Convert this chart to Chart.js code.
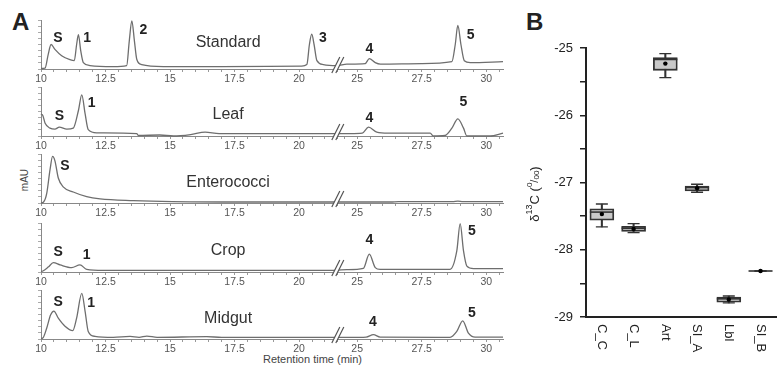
<!DOCTYPE html>
<html>
<head>
<meta charset="utf-8">
<script src="https://cdn.jsdelivr.net/npm/chart.js@4.4.0/dist/chart.umd.min.js"></script>
<style>
  html, body { margin: 0; padding: 0; background: #fff; overflow: hidden; width: 781px; height: 373px; }
  #wrap { position: relative; width: 781px; height: 373px; overflow: hidden; font-family: "Liberation Sans", Arial, sans-serif; }
  canvas { position: absolute; }
  .txt { position: absolute; white-space: nowrap; color: #222; line-height: 1; }
</style>
</head>
<body>
<div id="wrap">
  <div class="txt" style="left:12px; top:10px; font-size:24px; font-weight:bold;">A</div>
  <div class="txt" style="left:526px; top:10px; font-size:24px; font-weight:bold;">B</div>
  <div class="txt" style="left:5px; top:175px; width:40px; text-align:center; font-size:10px; color:#444; transform:rotate(-90deg);">mAU</div>
  <div class="txt" style="left:263px; top:354px; font-size:11px; color:#444;">Retention time (min)</div>
</div>
<script>
const FONT = '"Liberation Sans", Arial, sans-serif';

// ---- Panel A: chromatograms (retention time in min, signal in % of panel height)
const stdTime = [10.0, 10.16, 10.28, 10.39, 10.54, 10.8, 11.12, 11.29, 11.38, 11.45, 11.54, 11.64, 11.9, 12.8, 13.32, 13.42, 13.52, 13.62, 13.71, 13.9, 14.74, 17.0, 20.1, 20.3, 20.4, 20.49, 20.58, 20.69, 20.94, 21.46, 24.6, 25.31, 25.47, 25.7, 25.9, 27.5, 28.67, 28.8, 28.9, 29.02, 29.15, 29.38, 30.65];
const stdSignal = [1, 2, 30, 50, 40, 27, 19, 17, 50, 70, 37, 13, 7, 5, 7, 57, 98, 57, 20, 9, 5, 5, 6, 9, 50, 71, 50, 17, 9, 7, 10, 11, 21, 13, 10, 11, 15, 50, 89, 50, 17, 13, 15];

const leafTime = [10.0, 10.07, 10.16, 10.35, 10.54, 10.71, 11.0, 11.25, 11.45, 11.58, 11.71, 11.83, 12.16, 13.71, 13.77, 14.6, 15.13, 15.8, 16.36, 16.9, 21.2, 24.73, 25.2, 25.44, 25.76, 26.2, 27.83, 27.95, 28.4, 28.67, 28.9, 29.12, 29.25, 30.15, 30.65];
const leafSignal = [45, 42, 26, 16, 14, 18, 14, 16, 52, 84, 45, 13, 6.5, 5, 1, 2, 0, 3, 8, 5, 5, 5, 6, 18, 8, 6, 6, 0, 1, 16, 35, 16, 0, 0, 6];

const entTime = [10.0, 10.1, 10.22, 10.35, 10.45, 10.54, 10.67, 10.86, 11.25, 11.77, 12.29, 13.58, 15.1, 18.5, 21.4, 24.6, 26.3, 26.6, 28.7, 28.9, 29.1, 30.65];
const entSignal = [0, 2, 19, 68, 95, 86, 51, 33, 22.5, 13, 8.5, 5, 3, 2, 2, 2, 2, 3, 3, 4, 3, 3];

const cropTime = [10.0, 10.07, 10.28, 10.48, 10.74, 11.19, 11.51, 11.77, 12.41, 18.0, 21.4, 24.6, 25.24, 25.47, 25.7, 25.89, 28.6, 28.86, 28.99, 29.12, 29.25, 29.51, 30.65];
const cropSignal = [1, 2, 10, 19, 14.5, 9, 14.5, 5.5, 3.5, 3.5, 3.5, 5, 7.6, 36.5, 9, 5.5, 5.5, 43, 98.6, 43, 12, 7, 7];

const midTime = [10.0, 10.07, 10.22, 10.37, 10.5, 10.67, 10.93, 11.23, 11.38, 11.58, 11.71, 11.83, 12.09, 12.8, 13.45, 13.8, 14.1, 14.5, 16.42, 17.0, 21.4, 24.73, 25.35, 25.63, 25.89, 28.6, 28.86, 29.09, 29.31, 29.57, 30.65];
const midSignal = [1, 2, 22, 49, 57, 42.5, 26, 17, 42.5, 93, 56, 15.5, 5.4, 3.4, 5.4, 3.4, 6, 3.4, 4.7, 3.4, 3.4, 3.4, 4, 8.8, 4, 3.4, 15.5, 37, 12, 4, 4];

// peak labels: [text, retention time, signal]
const stdPeaks = [['S', 10.66, 62], ['1', 11.79, 62], ['2', 13.97, 80], ['3', 20.92, 62], ['4', 25.47, 41], ['5', 29.4, 70]];
const leafPeaks = [['S', 10.71, 40], ['1', 11.96, 68], ['4', 25.47, 37], ['5', 29.12, 70]];
const entPeaks = [['S', 10.93, 75]];
const cropPeaks = [['S', 10.67, 40], ['1', 11.77, 34], ['4', 25.47, 64], ['5', 29.44, 83]];
const midPeaks = [['S', 10.67, 76], ['1', 11.94, 73], ['4', 25.61, 34], ['5', 29.44, 53]];

const tickMajor = [10, 12.5, 15, 17.5, 20, 25, 27.5, 30];
const tickLabels = ['10', '12.5', '15', '17.5', '20', '25', '27.5', '30'];

// ---- Panel B: δ13C box plots
const isoGroups = ['C_C', 'C_L', 'Art', 'SI_A', 'Lbl', 'SI_B'];
const whiskLow  = [-27.66, -27.745, -25.44, -27.146, -28.79, -28.316];
const q1        = [-27.56, -27.726, -25.332, -27.126, -28.781, -28.316];
const median    = [-27.44, -27.68, -25.17, -27.075, -28.73, -28.316];
const q3        = [-27.39, -27.651, -25.143, -27.052, -28.703, -28.316];
const whiskHigh = [-27.32, -27.611, -25.083, -27.027, -28.688, -28.316];
const means     = [-27.47, -27.69, -25.232, -27.086, -28.74, -28.316];

// broken time axis: 21.5 .. 24.25 min is cut out
const BREAK_AT = 21.5;
const GAP = 2.75;
function toAxis(t) { return t > BREAK_AT + 0.5 ? t - GAP : t; }

const axisTicks = [];
for (let t = 10; t <= 21.5; t += 0.5) axisTicks.push(t);
for (let t = 24.5; t <= 30.5; t += 0.5) axisTicks.push(t);

const rows = [
  { name: 'Standard', time: stdTime, signal: stdSignal, peaks: stdPeaks, axisY: 69, nameY: 53 },
  { name: 'Leaf', time: leafTime, signal: leafSignal, peaks: leafPeaks, axisY: 136, nameY: 43 },
  { name: 'Enterococci', time: entTime, signal: entSignal, peaks: entPeaks, axisY: 203, nameY: 41 },
  { name: 'Crop', time: cropTime, signal: cropSignal, peaks: cropPeaks, axisY: 272, nameY: 43 },
  { name: 'Midgut', time: midTime, signal: midSignal, peaks: midPeaks, axisY: 339, nameY: 41 }
];

const chromLabels = {
  id: 'chromLabels',
  afterDatasetsDraw(chart, args, o) {
    const { ctx, scales: { x, y } } = chart;
    ctx.save();
    // axis break marks
    const bx = x.getPixelForValue(BREAK_AT), by = y.bottom;
    ctx.fillStyle = '#fff';
    ctx.beginPath();
    ctx.moveTo(bx - 6, by + 4); ctx.lineTo(bx - 2, by + 4);
    ctx.lineTo(bx + 6, by - 12); ctx.lineTo(bx + 2, by - 12);
    ctx.closePath(); ctx.fill();
    ctx.strokeStyle = '#555'; ctx.lineWidth = 1.2;
    ctx.beginPath();
    ctx.moveTo(bx - 6, by + 4); ctx.lineTo(bx + 2, by - 12);
    ctx.moveTo(bx - 2, by + 4); ctx.lineTo(bx + 6, by - 12);
    ctx.stroke();
    // peak labels
    ctx.fillStyle = '#222';
    ctx.textAlign = 'center';
    ctx.textBaseline = 'middle';
    ctx.font = 'bold 14px ' + FONT;
    o.peaks.forEach(([txt, t, v]) => ctx.fillText(txt, x.getPixelForValue(toAxis(t)), y.getPixelForValue(v)));
    // sample name
    ctx.fillStyle = '#333';
    ctx.font = '16px ' + FONT;
    ctx.fillText(o.name, x.getPixelForValue(17.25), y.getPixelForValue(o.nameY));
    ctx.restore();
  }
};

const wrap = document.getElementById('wrap');

rows.forEach(r => {
  const cv = document.createElement('canvas');
  cv.width = 505; cv.height = 67;
  cv.style.left = '0px';
  cv.style.top = (r.axisY - 51) + 'px';
  wrap.appendChild(cv);

  new Chart(cv.getContext('2d'), {
    type: 'line',
    data: {
      datasets: [{
        data: r.time.map((t, i) => ({ x: toAxis(t), y: r.signal[i] })),
        borderColor: '#6e6e6e',
        borderWidth: 1.3,
        pointRadius: 0,
        cubicInterpolationMode: 'monotone',
        fill: false,
        clip: false
      }]
    },
    options: {
      responsive: false,
      animation: false,
      events: [],
      layout: { padding: { top: 2, right: 2, left: 0, bottom: 0 } },
      plugins: {
        legend: { display: false },
        tooltip: { enabled: false },
        chromLabels: { name: r.name, nameY: r.nameY, peaks: r.peaks }
      },
      scales: {
        x: {
          type: 'linear',
          min: 10,
          max: 27.9,
          afterBuildTicks: s => { s.ticks = axisTicks.map(t => ({ value: toAxis(t) })); },
          afterFit: s => { s.height = 16; },
          ticks: {
            autoSkip: false,
            maxRotation: 0,
            padding: 1,
            color: '#555',
            font: { size: 10.5, family: FONT },
            callback: (v, i) => {
              const k = tickMajor.indexOf(axisTicks[i]);
              return k >= 0 ? tickLabels[k] : '';
            }
          },
          grid: { drawOnChartArea: false, tickLength: 3, color: '#999' },
          border: { color: '#888', width: 1 }
        },
        y: {
          min: 0,
          max: 100,
          afterFit: s => { s.width = 41; },
          ticks: { display: false, stepSize: 12.5 },
          grid: { drawOnChartArea: false, tickLength: 3, color: '#aaa' },
          border: { color: '#888', width: 1 }
        }
      }
    },
    plugins: [chromLabels]
  });
});

// ---- Panel B
const boxText = {
  id: 'boxText',
  afterDraw(chart) {
    const { ctx, scales: { x } } = chart;
    ctx.save();
    ctx.fillStyle = '#222';
    ctx.font = '13px ' + FONT;
    ctx.textAlign = 'left';
    ctx.textBaseline = 'middle';
    chart.data.labels.forEach((lab, i) => {
      ctx.save();
      ctx.translate(x.getPixelForTick(i), x.top + 7);
      ctx.rotate(Math.PI / 2);
      ctx.fillText(lab, 0, 0);
      ctx.restore();
    });
    // y axis title: δ13C (0/00)
    const parts = [
      ['δ', 13, 0], ['13', 9, -5], ['C (', 13, 0], ['0', 8, -5], ['/', 11, 0], ['00', 8, 2], [')', 13, 0]
    ];
    let total = 0;
    parts.forEach(p => { ctx.font = p[1] + 'px ' + FONT; total += ctx.measureText(p[0]).width; });
    ctx.translate(35, 194);
    ctx.rotate(-Math.PI / 2);
    let cx = -total / 2;
    parts.forEach(p => {
      ctx.font = p[1] + 'px ' + FONT;
      ctx.fillText(p[0], cx, p[2]);
      cx += ctx.measureText(p[0]).width;
    });
    ctx.restore();
  }
};

const cvB = document.createElement('canvas');
cvB.width = 290; cvB.height = 373;
cvB.style.left = '500px';
cvB.style.top = '0px';
wrap.appendChild(cvB);

new Chart(cvB.getContext('2d'), {
  type: 'bar',
  data: {
    labels: isoGroups,
    datasets: [
      { type: 'line', data: means, showLine: false, pointStyle: 'circle', pointRadius: 2.2,
        pointBackgroundColor: '#000', pointBorderColor: '#000', pointBorderWidth: 0, order: 0 },
      { type: 'line', data: median, showLine: false, pointStyle: 'line', pointRadius: 12,
        pointBorderColor: '#333', pointBorderWidth: 1.6, order: 1, clip: false },
      { type: 'line', data: whiskHigh, showLine: false, pointStyle: 'line', pointRadius: 6,
        pointBorderColor: '#333', pointBorderWidth: 1.4, order: 1 },
      { type: 'line', data: whiskLow, showLine: false, pointStyle: 'line', pointRadius: 6,
        pointBorderColor: '#333', pointBorderWidth: 1.4, order: 1 },
      { data: q1.map((v, i) => [v, q3[i]]), backgroundColor: '#c9c9c9', borderColor: '#333',
        borderWidth: 1.8, borderSkipped: false, barThickness: 24, grouped: false, order: 2 },
      { data: whiskLow.map((v, i) => [v, whiskHigh[i]]), backgroundColor: '#333',
        barThickness: 1.4, grouped: false, order: 3 }
    ]
  },
  options: {
    responsive: false,
    animation: false,
    events: [],
    layout: { padding: { top: 48, right: 6, left: 21, bottom: 0 } },
    plugins: { legend: { display: false }, tooltip: { enabled: false } },
    scales: {
      x: {
        afterFit: s => { s.height = 56; },
        ticks: { display: false },
        grid: { drawOnChartArea: false, drawTicks: false },
        border: { color: '#222', width: 2 }
      },
      y: {
        min: -29,
        max: -25,
        afterFit: s => { s.width = 65; },
        ticks: {
          stepSize: 0.5,
          padding: 7,
          color: '#222',
          font: { size: 13, family: FONT },
          callback: v => (v % 1 === 0 ? String(v) : '')
        },
        grid: { drawOnChartArea: false, tickLength: 6, color: '#222', lineWidth: 1.5 },
        border: { color: '#222', width: 2 }
      }
    }
  },
  plugins: [boxText]
});
</script>
</body>
</html>
